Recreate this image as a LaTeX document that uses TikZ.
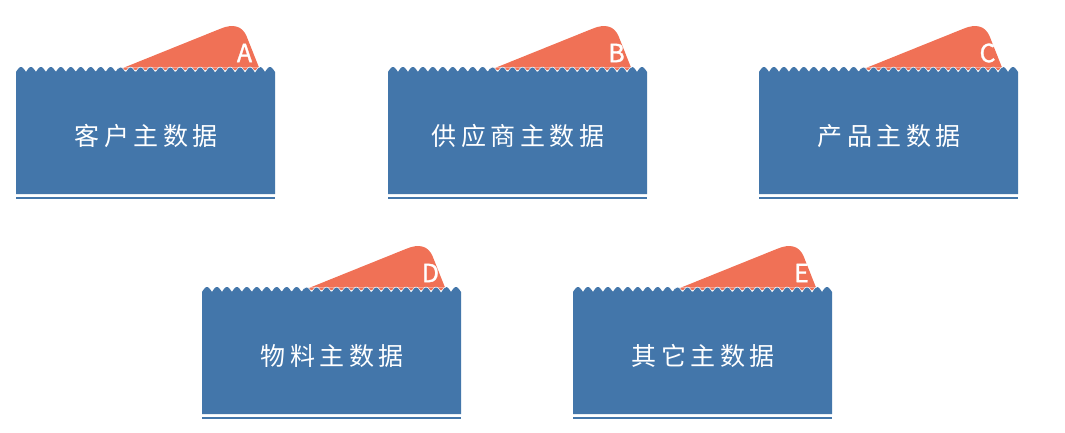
\documentclass[tikz,border=0pt]{standalone}
\usepackage{fontspec}
\newfontfamily\cjk[LetterSpace=18]{Noto Sans CJK SC}
\newfontfamily\tagfont[FakeBold=1.2]{Noto Sans CJK SC}
\definecolor{mdblue}{RGB}{67,118,170}
\definecolor{mdorange}{RGB}{240,113,86}

\begin{document}
\begin{tikzpicture}[x=1pt, y=-1pt,
    card/.style={fill=mdblue},
    tab/.style={fill=mdorange},
    title/.style={text=white, font=\cjk\fontsize{25}{28}\selectfont},
    tagtext/.style={text=white, font=\tagfont\fontsize{25}{28}\selectfont}]
\useasboundingbox (0,0) rectangle (1065,432);
\foreach \cx/\cy/\tg/\txt in {16/67/A/客户主数据, 388/67/B/供应商主数据, 759/67/C/产品主数据, 202/287/D/物料主数据, 573/287/E/其它主数据}
{
    \fill[tab](\cx+102,\cy+3)--(\cx+205,\cy-38.5) .. controls (\cx+217,\cy-43.3) and (\cx+226,\cy-41.3) .. (\cx+230.5,\cy-31)--(\cx+244,\cy+3)--cycle;
    \node[tagtext] (tag-\tg) at (\cx+228.5,\cy-14){\tg};
    % 18.072 = 180/9.96, one bump per 9.96pt
    \fill[card](\cx,\cy+127)--(\cx,\cy+5)--plot[domain=0:259, samples=260]({\cx+\x},{\cy+5-5*abs(sin(18.072*\x))})--(\cx+259,\cy+127)--cycle;
    \draw[white, line width=.5pt] plot[domain=102:244, samples=143]({\cx+\x},{\cy+5-5*abs(sin(18.072*\x))});
    \draw[white, opacity=.35, line width=.5pt](\cx+102,\cy)--(\cx+244,\cy);
    \fill[card](\cx,\cy+129.5) rectangle (\cx+259,\cy+132.3);
    \node[title] (name-\tg) at (\cx+130,\cy+69){\txt};
}
\end{tikzpicture}
\end{document}
